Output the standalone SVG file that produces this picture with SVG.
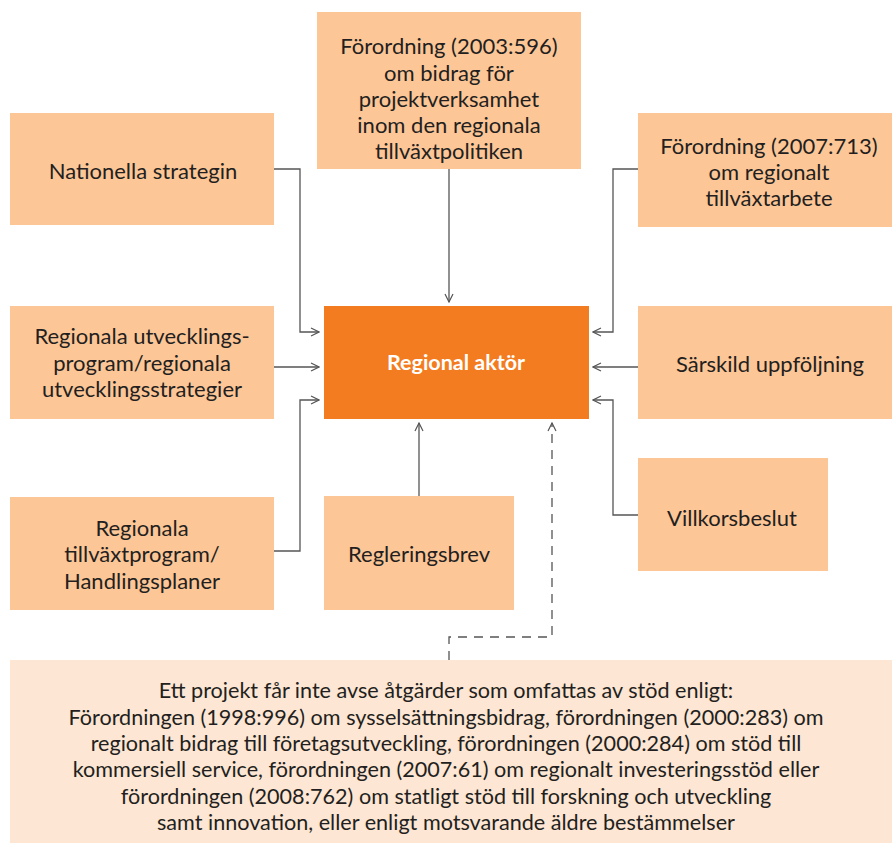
<svg xmlns="http://www.w3.org/2000/svg" width="892" height="843" viewBox="0 0 892 843">
<defs>
<style>
.n{fill:#FDC697}
.c{fill:#F47C20}
.b{fill:#FDE6D3}
text{font-family:Lato,"Noto Sans",sans-serif;font-size:22px;fill:#231F20;text-anchor:middle;dominant-baseline:central}
.w{fill:#FFFFFF;font-weight:bold;font-size:21.5px}
.s{font-size:21.6px}
.l{fill:none;stroke:#555;stroke-width:1.3}
.d{stroke-dasharray:9 7}
</style>
<marker id="a" viewBox="0 0 10 10" refX="9" refY="5" markerWidth="10" markerHeight="10" markerUnits="userSpaceOnUse" orient="auto">
<path d="M1,1 L9,5 L1,9" fill="none" stroke="#555" stroke-width="1.2"/>
</marker>
</defs>
<rect width="892" height="843" fill="#fff"/>
<g id="connectors">
<path class="l" d="M274,169 H300 V332 H319" marker-end="url(#a)"/>
<path class="l" d="M274,367 H319" marker-end="url(#a)"/>
<path class="l" d="M274,551 H300 V400 H319" marker-end="url(#a)"/>
<path class="l" d="M638,169 H613 V332 H593" marker-end="url(#a)"/>
<path class="l" d="M638,367 H593" marker-end="url(#a)"/>
<path class="l" d="M638,515 H613 V400 H593" marker-end="url(#a)"/>
<path class="l" d="M449,169 V302" marker-end="url(#a)"/>
<path class="l" d="M419,496 V423" marker-end="url(#a)"/>
<path class="l d" d="M449,660 V637 H552 V423" marker-end="url(#a)"/>
</g>
<g id="n-top"><rect class="n" x="317" y="12" width="264" height="157"/>
<text x="449" y="45">Förordning (2003:596)</text><text x="449" y="72">om bidrag för</text><text x="449" y="98">projektverksamhet</text><text x="449" y="124">inom den regionala</text><text x="449" y="150">tillväxtpolitiken</text></g>
<g id="n-nat"><rect class="n" x="10" y="113" width="264" height="112"/><text x="143" y="170">Nationella strategin</text></g>
<g id="n-f2007"><rect class="n" x="638" y="113" width="254" height="114"/>
<text x="769" y="145">Förordning (2007:713)</text><text x="769" y="171">om regionalt</text><text x="769" y="197">tillväxtarbete</text></g>
<g id="n-center"><rect class="c" x="324" y="306" width="265" height="113"/><text class="w" x="456" y="362">Regional aktör</text></g>
<g id="n-rup"><rect class="n" x="10" y="306" width="264" height="113"/>
<text x="142" y="335">Regionala utvecklings-</text><text x="142" y="362">program/regionala</text><text x="142" y="388">utvecklingsstrategier</text></g>
<g id="n-sars"><rect class="n" x="638" y="306" width="254" height="113"/><text x="770" y="363">Särskild uppföljning</text></g>
<g id="n-rtp"><rect class="n" x="10" y="497" width="264" height="113"/>
<text x="142" y="527">Regionala</text><text x="142" y="553">tillväxtprogram/</text><text x="142" y="580">Handlingsplaner</text></g>
<g id="n-regl"><rect class="n" x="324" y="496" width="190" height="114"/><text x="419" y="553">Regleringsbrev</text></g>
<g id="n-villk"><rect class="n" x="638" y="458" width="190" height="113"/><text x="732" y="517">Villkorsbeslut</text></g>
<g id="n-bottom"><rect class="b" x="10" y="660" width="882" height="183"/>
<text class="s" x="446" y="690">Ett projekt får inte avse åtgärder som omfattas av stöd enligt:</text>
<text class="s" x="446" y="717">Förordningen (1998:996) om sysselsättningsbidrag, förordningen (2000:283) om</text>
<text class="s" x="446" y="743">regionalt bidrag till företagsutveckling, förordningen (2000:284) om stöd till</text>
<text class="s" x="446" y="769">kommersiell service, förordningen (2007:61) om regionalt investeringsstöd eller</text>
<text class="s" x="446" y="796">förordningen (2008:762) om statligt stöd till forskning och utveckling</text>
<text class="s" x="446" y="822">samt innovation, eller enligt motsvarande äldre bestämmelser</text></g>
</svg>
